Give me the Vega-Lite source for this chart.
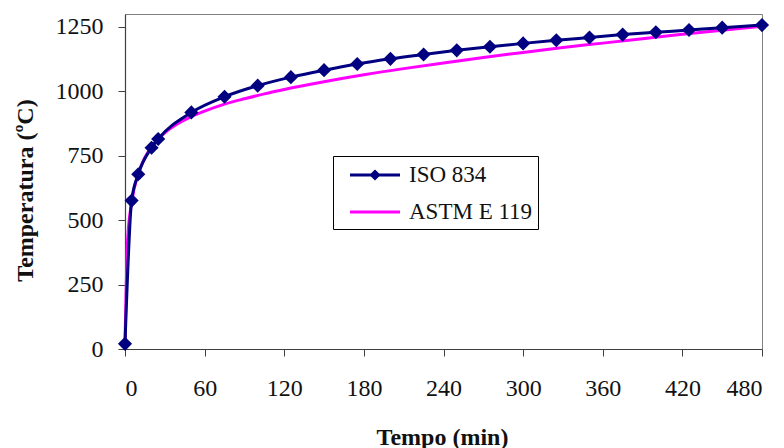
{
  "$schema": "https://vega.github.io/schema/vega-lite/v6.json",
  "width": 637,
  "height": 335,
  "autosize": {"type": "none"},
  "padding": {"left": 125, "top": 14, "right": 22, "bottom": 99},
  "background": "white",
  "config": {
    "view": {"stroke": "#808080", "strokeWidth": 1},
    "font": "Liberation Serif",
    "style": {
      "guide-label": {"font": "Liberation Serif", "fontSize": 24, "fill": "#111111"},
      "guide-title": {"font": "Liberation Serif", "fontSize": 24, "fontWeight": "bold", "fill": "#111111"}
    },
    "axis": {
      "grid": false,
      "domainColor": "#404040",
      "domainWidth": 1.2,
      "tickColor": "#404040",
      "tickSize": 7,
      "labelFont": "Liberation Serif",
      "labelFontSize": 24,
      "labelColor": "#111111",
      "titleFont": "Liberation Serif",
      "titleFontSize": 24,
      "titleFontWeight": "bold",
      "titleColor": "#111111"
    },
    "legend": {"labelFont": "Liberation Serif", "labelFontSize": 23}
  },
  "data": {
    "values": [
      {"tempo": 0, "temp": 20, "curva": "ISO 834"},
      {"tempo": 5, "temp": 576, "curva": "ISO 834"},
      {"tempo": 10, "temp": 678, "curva": "ISO 834"},
      {"tempo": 20, "temp": 781, "curva": "ISO 834"},
      {"tempo": 25, "temp": 815, "curva": "ISO 834"},
      {"tempo": 50, "temp": 918, "curva": "ISO 834"},
      {"tempo": 75, "temp": 979, "curva": "ISO 834"},
      {"tempo": 100, "temp": 1022, "curva": "ISO 834"},
      {"tempo": 125, "temp": 1055, "curva": "ISO 834"},
      {"tempo": 150, "temp": 1082, "curva": "ISO 834"},
      {"tempo": 175, "temp": 1106, "curva": "ISO 834"},
      {"tempo": 200, "temp": 1126, "curva": "ISO 834"},
      {"tempo": 225, "temp": 1143, "curva": "ISO 834"},
      {"tempo": 250, "temp": 1159, "curva": "ISO 834"},
      {"tempo": 275, "temp": 1173, "curva": "ISO 834"},
      {"tempo": 300, "temp": 1186, "curva": "ISO 834"},
      {"tempo": 325, "temp": 1198, "curva": "ISO 834"},
      {"tempo": 350, "temp": 1209, "curva": "ISO 834"},
      {"tempo": 375, "temp": 1220, "curva": "ISO 834"},
      {"tempo": 400, "temp": 1229, "curva": "ISO 834"},
      {"tempo": 425, "temp": 1238, "curva": "ISO 834"},
      {"tempo": 450, "temp": 1247, "curva": "ISO 834"},
      {"tempo": 480, "temp": 1257, "curva": "ISO 834"},
      {"tempo": 0, "temp": 20, "curva": "ASTM E 119"},
      {"tempo": 2, "temp": 426, "curva": "ASTM E 119"},
      {"tempo": 5, "temp": 568, "curva": "ASTM E 119"},
      {"tempo": 10, "temp": 680, "curva": "ASTM E 119"},
      {"tempo": 15, "temp": 743, "curva": "ASTM E 119"},
      {"tempo": 20, "temp": 785, "curva": "ASTM E 119"},
      {"tempo": 30, "temp": 839, "curva": "ASTM E 119"},
      {"tempo": 40, "temp": 875, "curva": "ASTM E 119"},
      {"tempo": 50, "temp": 902, "curva": "ASTM E 119"},
      {"tempo": 60, "temp": 923, "curva": "ASTM E 119"},
      {"tempo": 75, "temp": 950, "curva": "ASTM E 119"},
      {"tempo": 90, "temp": 971, "curva": "ASTM E 119"},
      {"tempo": 105, "temp": 990, "curva": "ASTM E 119"},
      {"tempo": 120, "temp": 1007, "curva": "ASTM E 119"},
      {"tempo": 150, "temp": 1037, "curva": "ASTM E 119"},
      {"tempo": 180, "temp": 1064, "curva": "ASTM E 119"},
      {"tempo": 210, "temp": 1088, "curva": "ASTM E 119"},
      {"tempo": 240, "temp": 1110, "curva": "ASTM E 119"},
      {"tempo": 270, "temp": 1131, "curva": "ASTM E 119"},
      {"tempo": 300, "temp": 1151, "curva": "ASTM E 119"},
      {"tempo": 330, "temp": 1170, "curva": "ASTM E 119"},
      {"tempo": 360, "temp": 1187, "curva": "ASTM E 119"},
      {"tempo": 390, "temp": 1204, "curva": "ASTM E 119"},
      {"tempo": 420, "temp": 1221, "curva": "ASTM E 119"},
      {"tempo": 450, "temp": 1237, "curva": "ASTM E 119"},
      {"tempo": 480, "temp": 1252, "curva": "ASTM E 119"}
    ]
  },
  "encoding": {
    "x": {
      "field": "tempo",
      "type": "quantitative",
      "scale": {"domain": [0, 480], "nice": false, "zero": false},
      "axis": {
        "title": "Tempo (min)",
        "values": [0, 60, 120, 180, 240, 300, 360, 420, 480],
        "format": "d",
        "labelFont": "Liberation Serif",
        "labelFontSize": 24,
        "labelPadding": 20,
        "titleX": 317,
        "titleY": 88,
        "titleBaseline": "middle",
        "titleAlign": "center"
      }
    },
    "y": {
      "field": "temp",
      "type": "quantitative",
      "scale": {"domain": [0, 1300], "nice": false},
      "axis": {
        "title": "Temperatura (ºC)",
        "values": [0, 250, 500, 750, 1000, 1250],
        "format": "d",
        "labelFont": "Liberation Serif",
        "labelFontSize": 24,
        "labelPadding": 15,
        "titleX": -100,
        "titleY": 176,
        "titleAngle": -90,
        "titleBaseline": "middle",
        "titleAlign": "center"
      }
    },
    "color": {
      "field": "curva",
      "type": "nominal",
      "scale": {"domain": ["ISO 834", "ASTM E 119"], "range": ["#000080", "#FF00FF"]},
      "legend": {
        "title": null,
        "orient": "none",
        "legendX": 208,
        "legendY": 142,
        "padding": 5,
        "strokeColor": "#000000",
        "fillColor": "#FFFFFF",
        "symbolType": {"expr": "datum.value == 'ISO 834' ? 'M-2,0H2M0,-0.28L0.28,0L0,0.28L-0.28,0Z' : 'M-2,0H2'"},
        "symbolSize": 625,
        "symbolStrokeWidth": 3,
        "symbolOffset": 23,
        "labelOffset": 20,
        "rowPadding": 11,
        "labelFont": "Liberation Serif",
        "labelFontSize": 23,
        "labelColor": "#111111",
        "labelExpr": "datum.label + '\u00a0\u00a0\u00a0\u00a0\u00a0\u00a0\u00a0'"
      }
    }
  },
  "layer": [
    {
      "transform": [{"filter": "datum.curva == 'ASTM E 119'"}],
      "mark": {"type": "line", "interpolate": "monotone", "strokeWidth": 3}
    },
    {
      "transform": [{"filter": "datum.curva == 'ISO 834'"}],
      "mark": {"type": "line", "interpolate": "monotone", "strokeWidth": 3}
    },
    {
      "transform": [{"filter": "datum.curva == 'ISO 834'"}],
      "mark": {"type": "point", "shape": "diamond", "filled": true, "size": 200, "opacity": 1, "color": "#000080"},
      "encoding": {"color": {"value": "#000080"}}
    }
  ]
}
